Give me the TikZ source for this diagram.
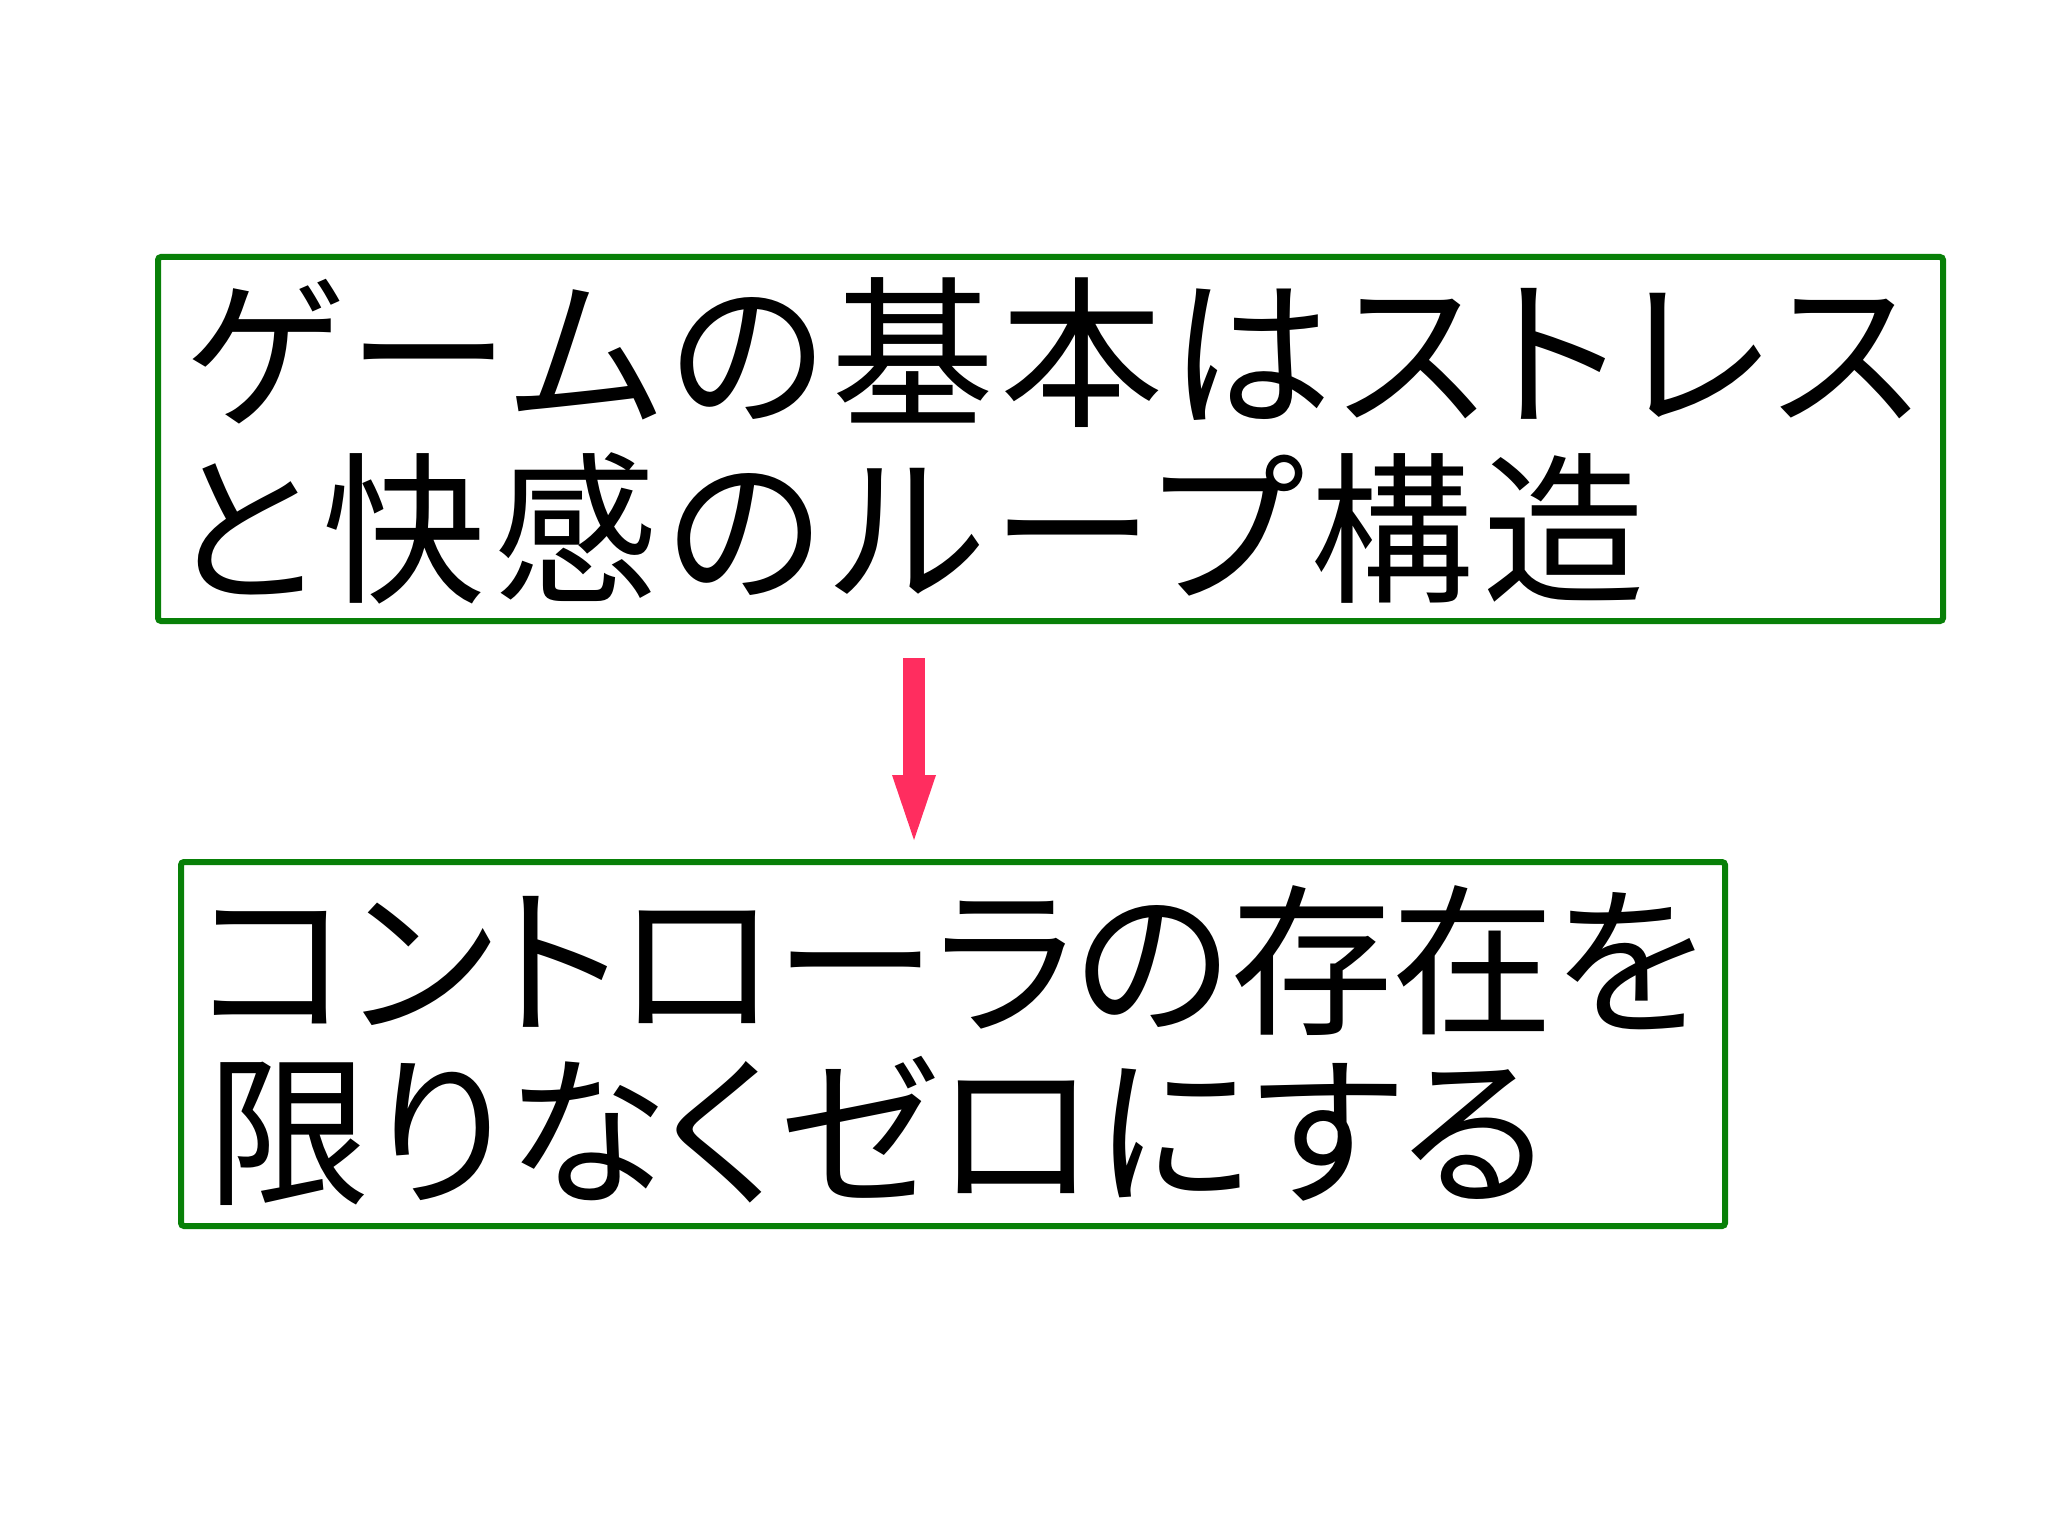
\documentclass[tikz,border=0pt]{standalone}
\usepackage{fontspec}
\newfontfamily\jpfont{Noto Sans CJK JP}[RawFeature=+palt]
\usetikzlibrary{arrows.meta}
\definecolor{boxgreen}{RGB}{8,128,8}
\definecolor{arrowpink}{RGB}{255,45,95}

\begin{document}
\begin{tikzpicture}[x=0.5pt,y=-0.5pt]
\tikzstyle{every node}+=[inner sep=0pt]
\tikzstyle{jptext}=[anchor=base west,font=\jpfont\fontsize{81.5}{84}\selectfont]
\tikzstyle{greenbox}=[draw=boxgreen,line width=3pt,rounded corners=1.5pt]
\useasboundingbox (0,0) rectangle (2048,1535);
\node [greenbox,minimum width=892.5pt,minimum height=182pt] (top) at (1050.5,439) {};
\node [greenbox,minimum width=772pt,minimum height=182pt] (bottom) at (953,1044) {};
\draw (184,414) node [jptext] (top1) {\addfontfeature{LetterSpace=3.7}ゲームの基本はストレス};
\draw (170,590) node [jptext] (top2) {\addfontfeature{LetterSpace=5.3}と快感のループ構造};
\draw (196,1022) node [jptext] (bottom1) {\addfontfeature{LetterSpace=-0.8}コントローラの存在を};
\draw (207,1192) node [jptext] (bottom2) {限りなくゼロにする};
\coordinate (from) at (914,658);
\coordinate (to) at (914,840);
\draw [arrowpink,line width=11pt,-{Triangle[width=22pt,length=32.5pt,line width=0pt]}] (from) -- (to);
\end{tikzpicture}
\end{document}
